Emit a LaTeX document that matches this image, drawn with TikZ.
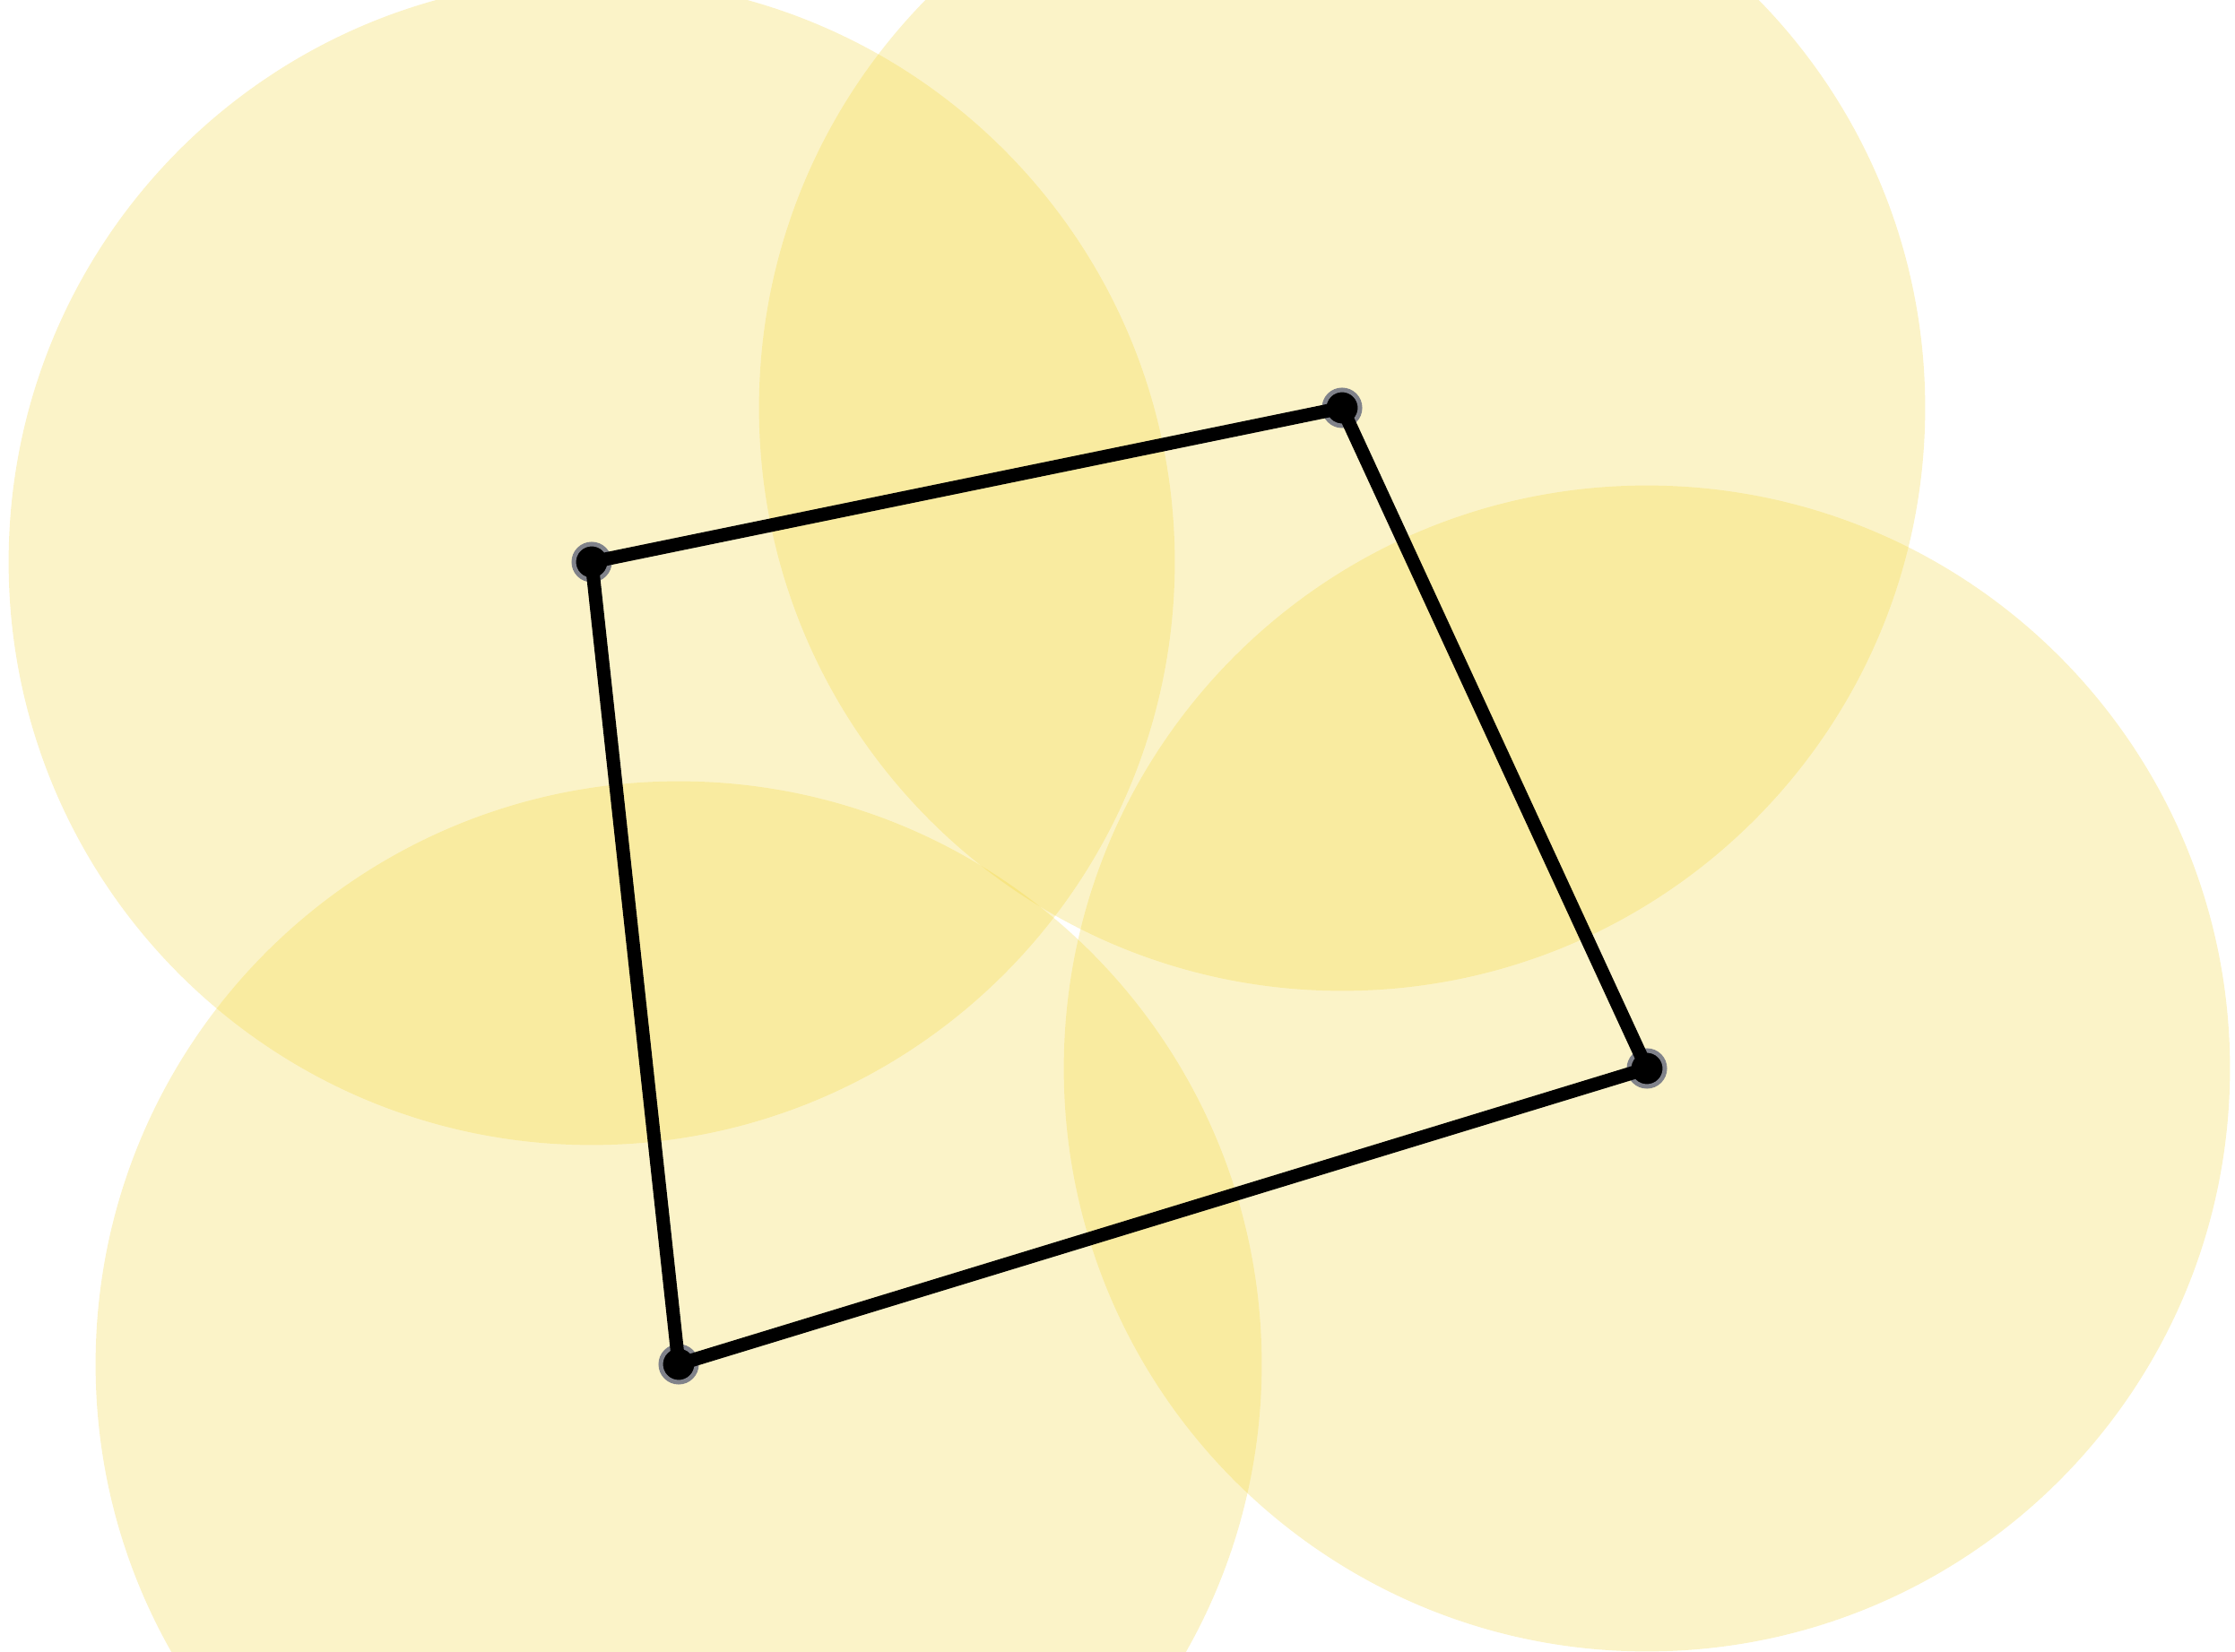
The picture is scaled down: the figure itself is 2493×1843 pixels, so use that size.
\documentclass[tikz,border=0pt]{standalone}
\definecolor{diskcol}{RGB}{242,212,52}
\definecolor{ringcol}{RGB}{128,130,138}
\begin{document}
\begin{tikzpicture}[x=0.01cm,y=-0.01cm,
  disk/.style={fill=diskcol, fill opacity=0.27},
  vertexdot/.style={circle, inner sep=0pt, minimum size=0.40cm, fill=black, draw=ringcol, line width=0.05cm},
  edge/.style={draw=black, line width=0.15cm, line join=round}]
\useasboundingbox (0,0) rectangle (2493,1843);
\clip (0,0) rectangle (2493,1843);
\coordinate (pA) at (660,627);
\coordinate (pB) at (1497,455);
\coordinate (pC) at (1837,1192);
\coordinate (pD) at (757,1522);
\fill[disk] (pA) circle[radius=6.5cm];
\fill[disk] (pB) circle[radius=6.5cm];
\fill[disk] (pC) circle[radius=6.5cm];
\fill[disk] (pD) circle[radius=6.5cm];
\node[vertexdot] (A) at (pA) {};
\node[vertexdot] (B) at (pB) {};
\node[vertexdot] (C) at (pC) {};
\node[vertexdot] (D) at (pD) {};
\draw[edge] (A.center) -- (B.center) -- (C.center) -- (D.center) -- cycle;
\end{tikzpicture}
\end{document}
